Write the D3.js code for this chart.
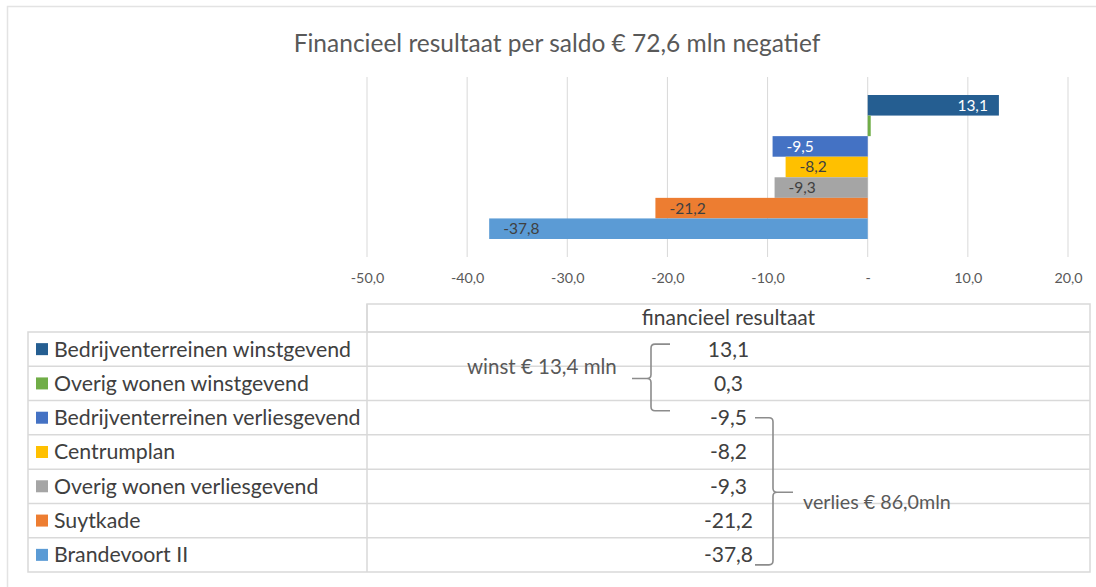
<!DOCTYPE html>
<html><head><meta charset="utf-8">
<script src="https://cdn.jsdelivr.net/npm/d3@7"></script>
<style>body{margin:0;background:#fff;} text{font-family:Lato,"Open Sans",sans-serif;}</style>
</head><body>
<svg id="chart" width="1096" height="587"></svg>
<script>
const title = "Financieel resultaat per saldo € 72,6 mln negatief";
const categories = ["Bedrijventerreinen winstgevend","Overig wonen winstgevend","Bedrijventerreinen verliesgevend","Centrumplan","Overig wonen verliesgevend","Suytkade","Brandevoort II"];
const values = [13.1, 0.3, -9.5, -8.2, -9.3, -21.2, -37.8];
const xTicks = [-50,-40,-30,-20,-10,0,10,20];
const tableHeader = "financieel resultaat";
const winstLabel = "winst € 13,4 mln";
const verliesLabel = "verlies € 86,0mln";

const colors = ["#255E91","#70AD47","#4472C4","#FFC000","#A5A5A5","#ED7D31","#5B9BD5"];
const labelColors = ["#ffffff","#404040","#ffffff","#404040","#404040","#404040","#404040"];
const fmt = v => v.toFixed(1).replace(".", ",");

const svg = d3.select("#chart");
// outer frame
svg.append("rect").attr("x",7.5).attr("y",6.5).attr("width",1100).attr("height",600)
  .attr("fill","none").attr("stroke","#e3e3e3").attr("stroke-width",1.5);

svg.append("text").attr("x",557).attr("y",52).attr("text-anchor","middle")
  .attr("font-size",24.5).attr("fill","#595959").text(title);

const x = d3.scaleLinear().domain([-50,20]).range([367,1068]);
const plotTop = 77, plotBottom = 257;
const y = d3.scaleBand().domain(categories).range([plotTop,plotBottom]).paddingInner(0).paddingOuter(0.875);

// gridlines
svg.append("g").selectAll("line").data(xTicks).join("line")
  .attr("x1",d=>x(d)).attr("x2",d=>x(d)).attr("y1",plotTop).attr("y2",plotBottom)
  .attr("stroke","#d9d9d9").attr("stroke-width",1);

// axis labels
const axis = d3.axisBottom(x).tickValues(xTicks).tickSize(0).tickPadding(0)
  .tickFormat(d => d === 0 ? "-" : fmt(d));
const ag = svg.append("g").attr("transform",`translate(0,${plotBottom+16})`).call(axis);
ag.select(".domain").remove();
ag.selectAll("text").attr("font-size",14.3).attr("fill","#595959").attr("font-family","Lato");

// bars
svg.append("g").selectAll("rect").data(values).join("rect")
  .attr("x",d=>x(Math.min(0,d))).attr("width",d=>Math.abs(x(d)-x(0)))
  .attr("y",(d,i)=>y(categories[i])).attr("height",y.bandwidth())
  .attr("fill",(d,i)=>colors[i]);

// data labels (inside end)
svg.append("g").selectAll("text").data(values.map((v,i)=>({v,i})).filter(d=>Math.abs(d.v)>1)).join("text")
  .attr("x",d=> d.v<0 ? x(d.v)+14 : x(d.v)-11)
  .attr("text-anchor",d=> d.v<0 ? "start":"end")
  .attr("y",d=>y(categories[d.i])+y.bandwidth()/2)
  .attr("dy","0.35em").attr("font-size",15.5)
  .attr("fill",d=>labelColors[d.i])
  .text(d=>fmt(d.v));

// table
const tLeft = 28, tDiv = 367, tRight = 1090, hTop = 304, rTop = 332, rBottom = 572;
const r = d3.scaleBand().domain(categories).range([rTop,rBottom]);
const tg = svg.append("g").attr("stroke","#d9d9d9").attr("stroke-width",1.5).attr("fill","none");
tg.append("rect").attr("x",tDiv).attr("y",hTop).attr("width",tRight-tDiv).attr("height",rTop-hTop);
tg.append("rect").attr("x",tLeft).attr("y",rTop).attr("width",tRight-tLeft).attr("height",rBottom-rTop);
tg.selectAll("line.row").data(categories.slice(1)).join("line")
  .attr("x1",tLeft).attr("x2",tRight).attr("y1",d=>r(d)).attr("y2",d=>r(d));
tg.append("line").attr("x1",tDiv).attr("x2",tDiv).attr("y1",hTop).attr("y2",rBottom);

const midV = (tDiv+tRight)/2;
svg.append("text").attr("x",midV).attr("y",(hTop+rTop)/2).attr("dy","0.35em")
  .attr("text-anchor","middle").attr("font-size",21).attr("fill","#404040").text(tableHeader);

const lg = svg.append("g").selectAll("g").data(categories).join("g")
  .attr("transform",d=>`translate(0,${r(d)+r.bandwidth()/2})`);
lg.append("rect").attr("x",36).attr("y",-6).attr("width",12).attr("height",12)
  .attr("fill",(d,i)=>colors[i]);
lg.append("text").attr("x",54).attr("dy","0.35em").attr("font-size",21.3)
  .attr("fill","#404040").text(d=>d);
lg.append("text").attr("x",midV).attr("dy","0.35em").attr("font-size",21)
  .attr("text-anchor","middle").attr("fill","#404040").text((d,i)=>fmt(values[i]));

// annotations
const c = i => r(categories[i]) + r.bandwidth()/2;
const ann = svg.append("g").attr("fill","none").attr("stroke","#8c8c8c").attr("stroke-width",1.6);
// winst brace "{"
{
  const xr = 670, xv = 651, xm = 632, yt = c(0)-5, yb = c(2)-7, ym = c(1)-5, k = 4;
  ann.append("path").attr("d",
    `M${xr},${yt} L${xv+k},${yt} Q${xv},${yt} ${xv},${yt+k} L${xv},${ym-k} Q${xv},${ym} ${xv-k},${ym} L${xm},${ym}
     M${xv-k},${ym} Q${xv},${ym} ${xv},${ym+k} L${xv},${yb-k} Q${xv},${yb} ${xv+k},${yb} L${xr},${yb}`);
}
// verlies brace "}"
{
  const xl = 755, xv = 773, xm = 793, yt = c(2), yb = c(6)+10, ym = c(4)+6, k = 4;
  ann.append("path").attr("d",
    `M${xl},${yt} L${xv-k},${yt} Q${xv},${yt} ${xv},${yt+k} L${xv},${ym-k} Q${xv},${ym} ${xv+k},${ym} L${xm},${ym}
     M${xv+k},${ym} Q${xv},${ym} ${xv},${ym+k} L${xv},${yb-k} Q${xv},${yb} ${xv-k},${yb} L${xl},${yb}`);
}
svg.append("text").attr("x",467).attr("y",374).attr("font-size",20.5).attr("fill","#595959").text(winstLabel);
svg.append("text").attr("x",803).attr("y",509).attr("font-size",19.7).attr("fill","#595959").text(verliesLabel);
</script>
</body></html>
